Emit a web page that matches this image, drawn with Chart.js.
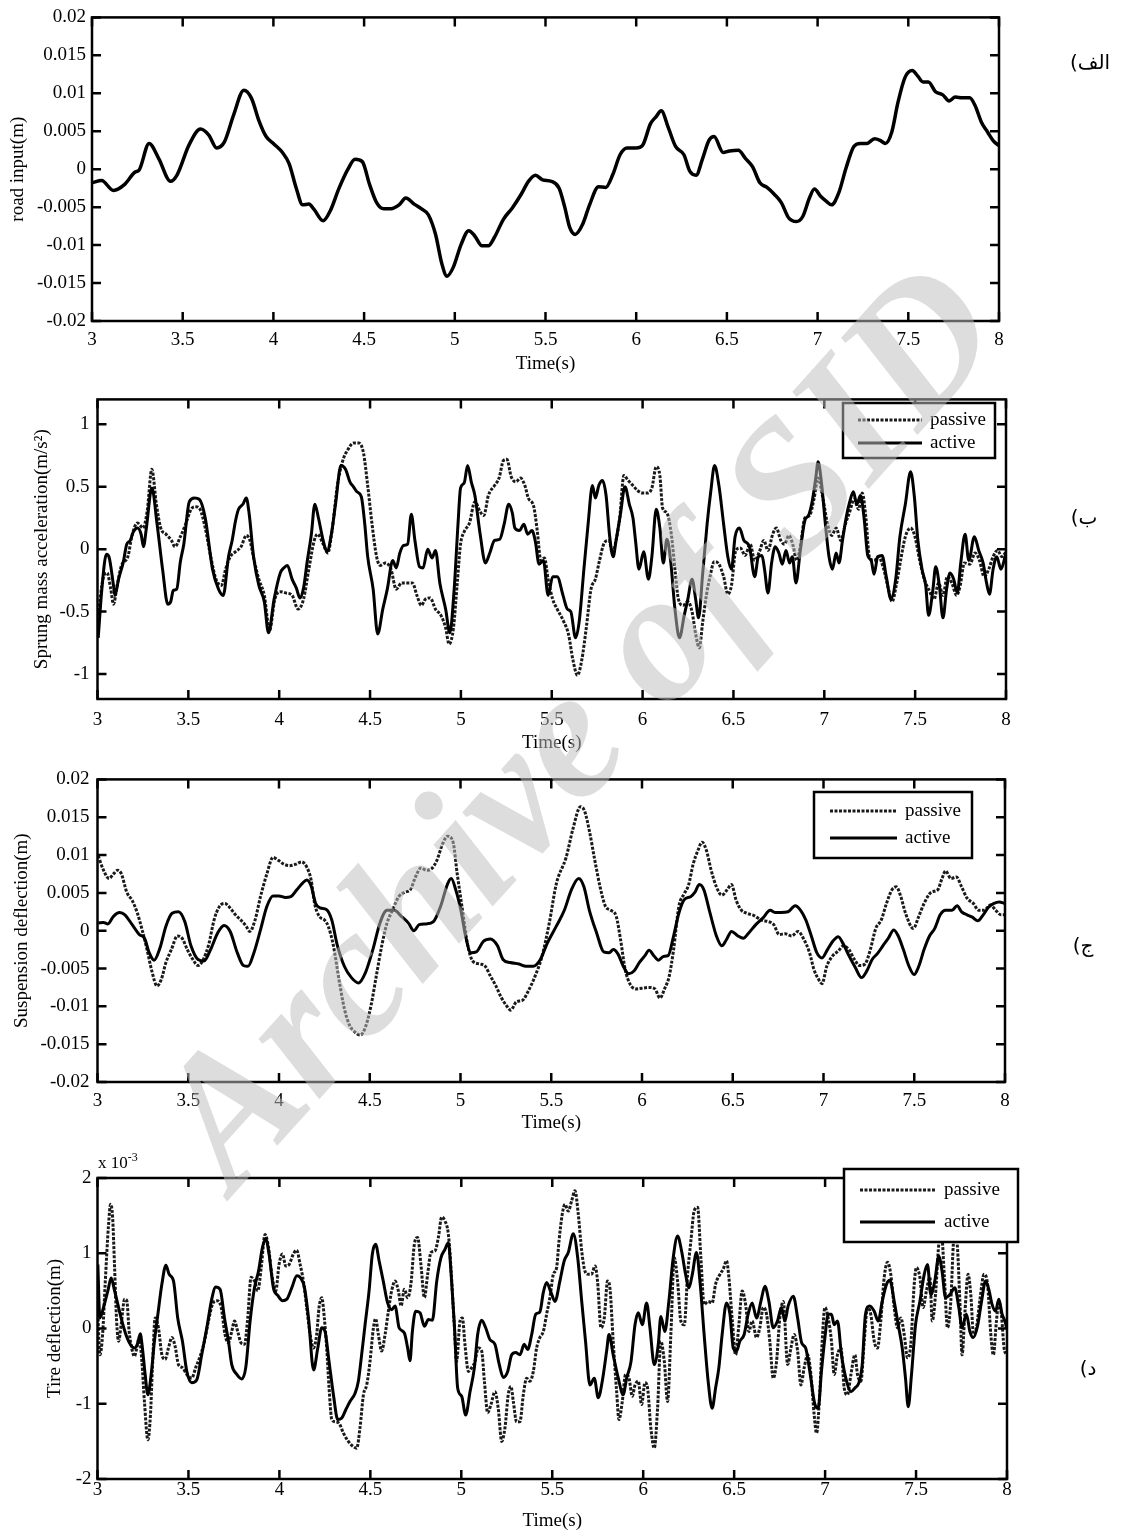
<!DOCTYPE html>
<html>
<head>
<meta charset="utf-8">
<title>Suspension response</title>
<script src="https://cdn.jsdelivr.net/npm/chart.js@4.4.1/dist/chart.umd.min.js"></script>
<style>
  body { margin: 0; background: #fff; width: 1122px; height: 1532px; position: relative; overflow: hidden; }
  canvas { position: absolute; left: 0; }
  .tag { position: absolute; font: 20px 'DejaVu Sans', sans-serif; color: #000; white-space: nowrap; transform: translate(-50%, -50%); }
  #scale4 { position: absolute; left: 98px; top: 1150px; font: 17px 'Liberation Serif', serif; }
  #scale4 sup { font-size: 12px; }
  #stamp {
    position: absolute; left: 574px; top: 722px; white-space: nowrap; pointer-events: none;
    transform: translate(-50%, -50%) rotate(-48deg);
    font: italic bold 186px 'Liberation Serif', serif; color: rgba(190, 190, 190, 0.52);
  }
</style>
</head>
<body>
<canvas id="road" width="1122" height="380" style="top:0px"></canvas>
<canvas id="accel" width="1122" height="380" style="top:380px"></canvas>
<canvas id="susp" width="1122" height="380" style="top:760px"></canvas>
<canvas id="tire" width="1122" height="392" style="top:1140px"></canvas>

<div class="tag" dir="rtl" style="left:1090px; top:62px">الف)</div>
<div class="tag" dir="rtl" style="left:1084px; top:517px">ب)</div>
<div class="tag" dir="rtl" style="left:1083px; top:945px">ج)</div>
<div class="tag" dir="rtl" style="left:1088px; top:1368px">د)</div>
<div id="scale4">x 10<sup>-3</sup></div>
<div id="stamp">Archive of SID</div>

<script>
// --- AXES ---
const timeTicks = [3, 3.5, 4, 4.5, 5, 5.5, 6, 6.5, 7, 7.5, 8];
const metreTicks = [-0.02, -0.015, -0.01, -0.005, 0, 0.005, 0.01, 0.015, 0.02];
const accelTicks = [-1, -0.5, 0, 0.5, 1];
const tireTicks = [-2, -1, 0, 1, 2];

// --- ROAD INPUT (m) ---
const roadTime = [3.000,3.053,3.118,3.180,3.236,3.260,3.315,3.368,3.433,3.470,3.535,3.598,3.644,3.687,3.730,3.780,3.837,3.880,3.920,3.960,
  4.004,4.050,4.087,4.126,4.161,4.195,4.224,4.274,4.313,4.362,4.411,4.450,4.490,4.530,4.569,4.608,4.648,4.693,4.730,4.776,4.815,4.854,4.894,4.929,4.957,4.992,
  5.035,5.077,5.110,5.150,5.185,5.218,5.268,5.317,5.366,5.406,5.445,5.484,5.533,5.575,5.605,5.634,5.664,5.704,5.743,5.792,5.832,5.871,5.911,5.950,
  6.000,6.034,6.079,6.109,6.138,6.178,6.217,6.263,6.296,6.330,6.366,6.401,6.429,6.480,6.514,6.563,6.603,6.642,6.682,6.721,6.761,6.800,6.840,6.883,6.919,6.955,6.982,
  7.018,7.047,7.077,7.117,7.156,7.200,7.235,7.271,7.314,7.344,7.374,7.409,7.443,7.482,7.522,7.551,7.581,7.611,7.650,7.690,7.725,7.759,7.798,7.838,7.868,7.903,7.937,7.970,8.000];
const roadInput = [-0.0018,-0.0015,-0.0028,-0.0020,-0.0004,-0.0001,0.0034,0.0014,-0.0016,-0.0007,0.0032,0.0053,0.0045,0.0028,0.0036,0.0071,0.0104,0.0093,0.0064,0.0043,
  0.0033,0.0022,0.0007,-0.0025,-0.0047,-0.0046,-0.0053,-0.0068,-0.0055,-0.0025,0.0000,0.0013,0.0010,-0.0020,-0.0044,-0.0052,-0.0052,-0.0047,-0.0038,-0.0046,-0.0052,-0.0060,-0.0086,-0.0125,-0.0141,-0.0129,
  -0.0099,-0.0081,-0.0088,-0.0101,-0.0101,-0.0090,-0.0066,-0.0051,-0.0033,-0.0016,-0.0008,-0.0014,-0.0016,-0.0025,-0.0049,-0.0077,-0.0086,-0.0073,-0.0047,-0.0023,-0.0024,-0.0007,0.0019,0.0028,
  0.0028,0.0031,0.0060,0.0069,0.0077,0.0054,0.0030,0.0019,-0.0003,-0.0008,0.0014,0.0038,0.0043,0.0022,0.0024,0.0025,0.0014,0.0003,-0.0018,-0.0024,-0.0033,-0.0044,-0.0064,-0.0069,-0.0062,-0.0038,-0.0026,
  -0.0036,-0.0042,-0.0047,-0.0031,0.0001,0.0030,0.0034,0.0034,0.0040,0.0038,0.0034,0.0049,0.0088,0.0121,0.0130,0.0123,0.0115,0.0115,0.0102,0.0098,0.0090,0.0095,0.0094,0.0094,0.0084,0.0062,0.0049,0.0037,0.0031];

// --- SPRUNG MASS ACCELERATION (m/s^2) ---
const accPassiveTime = [3.004,3.033,3.053,3.073,3.088,3.108,3.132,3.167,3.190,3.220,3.250,3.273,3.299,3.324,3.348,3.377,3.407,3.426,3.456,3.485,3.515,3.540,3.564,3.593,3.623,3.652,3.682,3.705,3.731,3.760,3.790,3.819,3.839,3.862,3.888,3.918,3.947,3.976,
  4.006,4.035,4.071,4.104,4.134,4.163,4.193,4.212,4.242,4.267,4.291,4.320,4.350,4.379,4.409,4.438,4.464,4.487,4.511,4.536,4.556,4.585,4.615,4.644,4.674,4.703,4.733,4.758,4.782,4.805,4.831,4.860,4.890,4.916,4.935,4.959,4.980,4.998,
  5.018,5.047,5.077,5.106,5.126,5.151,5.185,5.210,5.234,5.253,5.277,5.303,5.328,5.352,5.371,5.401,5.420,5.440,5.460,5.480,5.505,5.530,5.566,5.592,5.617,5.641,5.665,5.690,5.716,5.740,5.763,5.789,5.815,5.834,5.854,5.874,5.897,5.921,5.947,5.972,
  6.000,6.026,6.051,6.075,6.095,6.110,6.134,6.158,6.178,6.197,6.223,6.249,6.272,6.292,6.312,6.331,6.351,6.371,6.394,6.420,6.446,6.469,6.489,6.513,6.538,6.564,6.592,6.617,6.643,6.667,6.690,6.716,6.736,6.761,6.781,6.805,6.828,6.848,6.868,6.893,6.919,6.943,6.966,6.992,
  7.018,7.041,7.065,7.091,7.116,7.140,7.164,7.189,7.209,7.229,7.248,7.274,7.298,7.327,7.353,7.373,7.396,7.420,7.446,7.475,7.499,7.525,7.550,7.574,7.604,7.629,7.653,7.677,7.702,7.728,7.748,7.771,7.801,7.830,7.854,7.880,7.905,7.929,7.953,7.978,8.000];
const accPassive = [-0.53,-0.22,-0.19,-0.32,-0.44,-0.29,-0.13,-0.06,0.11,0.21,0.17,0.30,0.64,0.36,0.17,0.12,0.07,0.02,0.10,0.20,0.32,0.34,0.32,0.17,-0.06,-0.24,-0.29,-0.16,-0.06,-0.02,0.02,0.11,0.07,-0.09,-0.24,-0.37,-0.65,-0.40,
  -0.34,-0.35,-0.37,-0.48,-0.40,-0.16,0.07,0.12,0.04,-0.03,0.15,0.51,0.71,0.80,0.85,0.85,0.77,0.51,0.20,-0.06,-0.13,-0.11,-0.16,-0.32,-0.27,-0.27,-0.27,-0.37,-0.45,-0.40,-0.39,-0.48,-0.53,-0.63,-0.76,-0.63,-0.27,0.04,
  0.14,0.21,0.38,0.30,0.27,0.43,0.51,0.57,0.71,0.72,0.58,0.54,0.57,0.51,0.41,0.34,0.15,-0.09,-0.07,-0.24,-0.40,-0.48,-0.58,-0.68,-0.89,-1.01,-0.89,-0.63,-0.32,-0.24,-0.09,0.05,0.07,-0.03,0.07,0.25,0.59,0.55,0.51,0.47,
  0.45,0.45,0.49,0.66,0.59,0.33,0.29,0.12,-0.16,-0.40,-0.45,-0.42,-0.50,-0.68,-0.79,-0.58,-0.37,-0.22,-0.10,-0.12,-0.22,-0.36,-0.29,-0.01,0.01,-0.05,0.04,-0.09,-0.02,0.07,-0.01,0.12,0.17,0.07,0.04,0.11,0.03,-0.09,0.02,0.25,0.27,0.40,0.57,0.41,
  0.20,0.11,0.17,0.07,0.20,0.30,0.40,0.32,0.45,0.25,-0.06,-0.09,-0.06,-0.16,-0.32,-0.42,-0.29,-0.09,0.10,0.17,0.10,-0.09,-0.24,-0.32,-0.40,-0.27,-0.37,-0.22,-0.27,-0.37,-0.29,-0.11,-0.12,-0.03,-0.09,-0.22,-0.16,-0.06,-0.01,-0.06,-0.02];

const accActiveTime = [3.004,3.024,3.049,3.063,3.088,3.096,3.116,3.141,3.161,3.180,3.196,3.220,3.240,3.253,3.269,3.299,3.328,3.358,3.387,3.403,3.417,3.436,3.456,3.475,3.505,3.534,3.560,3.593,3.633,3.666,3.692,3.721,3.741,3.760,3.776,3.800,3.819,3.835,3.859,3.888,3.918,3.941,3.972,
  4.006,4.025,4.045,4.071,4.094,4.114,4.134,4.153,4.177,4.196,4.216,4.242,4.263,4.287,4.310,4.340,4.365,4.389,4.409,4.428,4.452,4.471,4.487,4.517,4.542,4.570,4.595,4.625,4.644,4.664,4.684,4.707,4.727,4.747,4.772,4.792,4.817,4.841,4.860,4.884,4.916,4.939,4.963,4.984,4.998,
  5.018,5.037,5.057,5.077,5.106,5.135,5.159,5.185,5.214,5.238,5.263,5.283,5.297,5.322,5.347,5.367,5.391,5.410,5.430,5.454,5.480,5.505,5.530,5.562,5.586,5.605,5.631,5.651,5.677,5.700,5.724,5.740,5.759,5.779,5.799,5.819,5.838,5.854,5.878,5.903,5.927,5.947,5.961,5.980,
  6.006,6.032,6.051,6.075,6.095,6.114,6.134,6.154,6.178,6.203,6.229,6.249,6.272,6.292,6.308,6.331,6.355,6.375,6.396,6.420,6.446,6.469,6.489,6.509,6.533,6.558,6.588,6.617,6.637,6.657,6.671,6.690,6.710,6.730,6.750,6.769,6.789,6.809,6.824,6.844,6.868,6.893,6.913,6.933,6.953,6.966,6.986,
  7.006,7.026,7.045,7.065,7.081,7.100,7.120,7.140,7.160,7.179,7.199,7.219,7.239,7.258,7.274,7.294,7.318,7.341,7.367,7.393,7.416,7.446,7.475,7.495,7.515,7.538,7.558,7.574,7.598,7.613,7.633,7.653,7.673,7.692,7.712,7.732,7.751,7.775,7.795,7.826,7.850,7.874,7.893,7.909,7.929,7.949,7.972,8.000];
const accActive = [-0.71,-0.32,-0.04,-0.06,-0.29,-0.37,-0.24,-0.11,0.04,0.07,0.135,0.17,0.12,0.02,0.17,0.49,0.20,-0.16,-0.44,-0.42,-0.33,-0.32,-0.10,0.04,0.38,0.41,0.40,0.25,-0.16,-0.32,-0.37,-0.06,0.07,0.23,0.32,0.36,0.41,0.28,-0.06,-0.29,-0.42,-0.67,-0.40,
  -0.19,-0.15,-0.13,-0.24,-0.31,-0.39,-0.31,-0.11,0.12,0.36,0.25,0.07,-0.02,0.12,0.36,0.67,0.64,0.54,0.50,0.46,0.42,0.20,-0.06,-0.32,-0.68,-0.48,-0.32,-0.09,-0.15,-0.03,0.03,0.04,0.28,0.07,-0.14,-0.15,0.00,-0.07,-0.01,-0.27,-0.48,-0.67,-0.32,0.20,0.49,
  0.53,0.67,0.54,0.43,0.12,-0.11,-0.03,0.07,0.08,0.20,0.36,0.29,0.17,0.15,0.20,0.12,0.15,0.06,-0.12,-0.09,-0.37,-0.22,-0.22,-0.37,-0.48,-0.50,-0.71,-0.58,-0.16,0.20,0.51,0.41,0.51,0.55,0.43,0.10,-0.06,0.07,0.28,0.50,0.36,0.25,0.07,-0.16,
  -0.02,-0.24,-0.06,0.32,0.17,-0.11,0.08,-0.09,-0.48,-0.71,-0.53,-0.40,-0.24,-0.40,-0.55,-0.19,0.20,0.46,0.67,0.51,0.20,-0.06,-0.16,0.10,0.17,0.07,0.02,-0.22,-0.06,-0.05,-0.16,-0.35,-0.11,0.02,-0.03,-0.12,-0.01,-0.11,-0.06,-0.27,-0.01,0.23,0.27,0.38,0.57,0.70,0.51,
  0.20,-0.06,-0.16,-0.03,-0.11,0.07,0.25,0.38,0.46,0.36,0.43,0.25,-0.05,-0.09,-0.20,-0.06,-0.05,-0.22,-0.40,-0.24,0.10,0.36,0.62,0.43,0.07,-0.16,-0.29,-0.53,-0.32,-0.14,-0.29,-0.55,-0.32,-0.19,-0.24,-0.35,-0.11,0.12,-0.09,0.10,-0.01,-0.11,-0.27,-0.36,-0.16,-0.06,-0.16,-0.03];

// --- SUSPENSION DEFLECTION (m) ---
const suspPassiveTime = [3.004,3.033,3.063,3.088,3.112,3.132,3.161,3.191,3.220,3.246,3.273,3.299,3.328,3.352,3.377,3.407,3.440,3.466,3.495,3.525,3.554,3.583,3.613,3.642,3.672,3.701,3.731,3.760,3.790,3.819,3.839,3.868,3.898,3.933,3.967,3.996,
  4.026,4.059,4.094,4.124,4.153,4.177,4.196,4.222,4.251,4.271,4.300,4.330,4.360,4.389,4.419,4.448,4.477,4.507,4.536,4.566,4.595,4.625,4.660,4.694,4.723,4.752,4.782,4.811,4.841,4.870,4.900,4.929,4.959,4.982,
  5.008,5.037,5.067,5.106,5.136,5.165,5.195,5.224,5.253,5.277,5.308,5.342,5.371,5.411,5.450,5.489,5.528,5.582,5.621,5.661,5.684,5.710,5.740,5.769,5.799,5.828,5.858,5.882,5.907,5.933,5.966,
  6.000,6.036,6.071,6.099,6.124,6.150,6.174,6.203,6.233,6.256,6.282,6.308,6.331,6.355,6.381,6.410,6.440,6.469,6.493,6.519,6.548,6.578,6.617,6.657,6.696,6.726,6.755,6.789,6.824,6.860,6.893,6.923,6.947,6.972,6.992,
  7.018,7.051,7.081,7.110,7.140,7.170,7.199,7.229,7.258,7.288,7.318,7.347,7.377,7.401,7.426,7.452,7.495,7.525,7.554,7.594,7.629,7.653,7.673,7.702,7.732,7.761,7.791,7.826,7.854,7.886,7.919,7.949,7.978,8.000];
const suspPassive = [0.0099,0.0080,0.0069,0.0075,0.0080,0.0075,0.0051,0.0040,0.0023,0.0001,-0.0025,-0.0053,-0.0073,-0.0064,-0.0042,-0.0025,-0.0007,-0.0010,-0.0025,-0.0038,-0.0046,-0.0038,-0.0018,0.0014,0.0032,0.0036,0.0030,0.0021,0.0014,0.0006,-0.0001,0.0014,0.0045,0.0075,0.0097,0.0093,
  0.0088,0.0086,0.0088,0.0091,0.0084,0.0067,0.0036,0.0019,0.0014,0.0006,-0.0020,-0.0064,-0.0103,-0.0125,-0.0134,-0.0138,-0.0127,-0.0099,-0.0060,-0.0020,0.0010,0.0027,0.0045,0.0051,0.0054,0.0071,0.0083,0.0080,0.0082,0.0093,0.0114,0.0125,0.0117,0.0075,
  0.0032,-0.0016,-0.0040,-0.0044,-0.0047,-0.0060,-0.0073,-0.0088,-0.0099,-0.0105,-0.0094,-0.0092,-0.0081,-0.0060,-0.0033,0.0010,0.0062,0.0097,0.0136,0.0164,0.0158,0.0132,0.0093,0.0058,0.0032,0.0027,0.0019,-0.0012,-0.0051,-0.0070,-0.0077,
  -0.0076,-0.0075,-0.0077,-0.0089,-0.0077,-0.0060,-0.0025,0.0032,0.0049,0.0060,0.0088,0.0106,0.0117,0.0106,0.0080,0.0058,0.0047,0.0054,0.0061,0.0040,0.0027,0.0023,0.0020,0.0014,0.0012,0.0008,-0.0005,-0.0004,-0.0007,-0.0001,-0.0012,-0.0029,-0.0051,-0.0064,-0.0070,
  -0.0047,-0.0033,-0.0027,-0.0020,-0.0025,-0.0038,-0.0046,-0.0044,-0.0025,0.0003,0.0014,0.0036,0.0054,0.0058,0.0045,0.0023,0.0003,0.0019,0.0036,0.0051,0.0054,0.0069,0.0079,0.0069,0.0071,0.0058,0.0043,0.0036,0.0027,0.0027,0.0034,0.0027,0.0021,0.0021];

const suspActiveTime = [3.004,3.033,3.057,3.088,3.122,3.151,3.191,3.230,3.259,3.285,3.312,3.344,3.377,3.411,3.446,3.481,3.515,3.554,3.587,3.623,3.662,3.697,3.731,3.770,3.804,3.829,3.862,3.898,3.933,3.967,
  4.000,4.035,4.065,4.098,4.130,4.153,4.177,4.202,4.228,4.261,4.291,4.320,4.360,4.399,4.438,4.477,4.517,4.556,4.595,4.635,4.674,4.713,4.743,4.772,4.811,4.851,4.890,4.929,4.949,4.974,
  5.002,5.028,5.057,5.087,5.126,5.165,5.204,5.234,5.273,5.322,5.361,5.400,5.440,5.479,5.528,5.572,5.611,5.651,5.680,5.710,5.750,5.789,5.819,5.842,5.868,5.897,5.927,5.957,5.986,
  6.016,6.039,6.065,6.091,6.118,6.144,6.174,6.203,6.233,6.268,6.292,6.316,6.341,6.371,6.410,6.440,6.465,6.493,6.529,6.558,6.588,6.627,6.667,6.706,6.736,6.765,6.805,6.844,6.874,6.903,6.933,6.963,6.992,
  7.022,7.051,7.081,7.110,7.140,7.176,7.209,7.239,7.268,7.298,7.327,7.357,7.387,7.412,7.440,7.471,7.499,7.525,7.554,7.584,7.613,7.643,7.673,7.708,7.736,7.761,7.791,7.820,7.850,7.880,7.909,7.939,7.968,8.000];
const suspActive = [0.0010,0.0011,0.0009,0.0019,0.0024,0.0021,0.0008,-0.0005,-0.0010,-0.0029,-0.0039,-0.0023,0.0006,0.0023,0.0025,0.0012,-0.0020,-0.0038,-0.0040,-0.0025,-0.0003,0.0007,-0.0001,-0.0029,-0.0046,-0.0047,-0.0029,0.0001,0.0032,0.0046,
  0.0046,0.0044,0.0045,0.0054,0.0063,0.0067,0.0059,0.0036,0.0030,0.0028,0.0014,-0.0018,-0.0047,-0.0062,-0.0069,-0.0055,-0.0025,0.0010,0.0027,0.0027,0.0019,0.0010,0.0000,0.0008,0.0009,0.0012,0.0032,0.0062,0.0069,0.0054,
  0.0027,-0.0007,-0.0029,-0.0028,-0.0014,-0.0011,-0.0020,-0.0038,-0.0042,-0.0044,-0.0047,-0.0047,-0.0038,-0.0016,0.0006,0.0027,0.0054,0.0069,0.0058,0.0027,-0.0003,-0.0028,-0.0029,-0.0025,-0.0031,-0.0047,-0.0057,-0.0053,-0.0042,
  -0.0033,-0.0026,-0.0033,-0.0039,-0.0034,-0.0033,-0.0007,0.0023,0.0041,0.0045,0.0051,0.0061,0.0054,0.0027,-0.0007,-0.0020,-0.0012,-0.0001,-0.0007,-0.0010,-0.0003,0.0008,0.0017,0.0027,0.0024,0.0024,0.0025,0.0033,0.0027,0.0014,-0.0007,-0.0029,-0.0036,
  -0.0025,-0.0014,-0.0008,-0.0018,-0.0033,-0.0049,-0.0062,-0.0053,-0.0038,-0.0030,-0.0020,-0.0010,0.0001,-0.0007,-0.0025,-0.0047,-0.0058,-0.0047,-0.0025,-0.0007,0.0003,0.0021,0.0027,0.0027,0.0033,0.0025,0.0021,0.0018,0.0013,0.0021,0.0031,0.0036,0.0038,0.0036];

// --- TIRE DEFLECTION (x 10^-3 m) ---
const tirePassiveTime = [3.002,3.013,3.028,3.042,3.061,3.072,3.083,3.094,3.105,3.116,3.130,3.149,3.161,3.174,3.188,3.203,3.216,3.229,3.244,3.258,3.277,3.291,3.302,3.317,3.335,3.354,3.372,3.390,3.409,3.427,3.445,3.467,3.491,3.518,3.540,3.564,3.588,3.610,3.632,3.656,3.680,3.701,3.720,3.738,3.753,3.771,3.789,3.808,3.826,3.844,3.863,3.881,3.900,3.921,3.940,3.958,3.980,3.998,
  4.017,4.035,4.053,4.077,4.095,4.114,4.132,4.150,4.169,4.187,4.205,4.218,4.233,4.247,4.260,4.273,4.288,4.306,4.328,4.352,4.379,4.407,4.425,4.443,4.462,4.480,4.498,4.517,4.529,4.544,4.562,4.581,4.599,4.617,4.636,4.654,4.669,4.687,4.705,4.723,4.742,4.760,4.778,4.797,4.815,4.833,4.855,4.874,4.892,4.910,4.929,4.943,4.962,4.974,4.993,
  5.006,5.020,5.039,5.057,5.075,5.093,5.112,5.127,5.145,5.163,5.185,5.203,5.222,5.240,5.258,5.273,5.286,5.304,5.322,5.341,5.359,5.377,5.396,5.414,5.432,5.451,5.469,5.487,5.506,5.524,5.537,5.555,5.570,5.588,5.607,5.625,5.643,5.662,5.680,5.698,5.716,5.735,5.749,5.768,5.786,5.804,5.817,5.835,5.854,5.867,5.885,5.903,5.922,5.940,5.955,5.973,5.991,
  6.010,6.024,6.042,6.061,6.079,6.097,6.116,6.134,6.152,6.171,6.189,6.207,6.226,6.244,6.262,6.280,6.299,6.317,6.335,6.357,6.379,6.398,6.422,6.440,6.458,6.471,6.490,6.508,6.526,6.544,6.563,6.581,6.599,6.623,6.641,6.660,6.678,6.696,6.715,6.733,6.751,6.770,6.794,6.812,6.830,6.849,6.867,6.885,6.904,6.922,6.940,6.953,6.971,6.984,
  6.999,7.017,7.035,7.050,7.068,7.087,7.105,7.123,7.142,7.164,7.178,7.197,7.215,7.233,7.251,7.270,7.288,7.306,7.325,7.343,7.361,7.380,7.398,7.416,7.435,7.453,7.471,7.490,7.502,7.521,7.539,7.557,7.576,7.589,7.607,7.625,7.640,7.655,7.673,7.691,7.709,7.724,7.741,7.753,7.768,7.786,7.801,7.816,7.832,7.850,7.874,7.893,7.911,7.925,7.942,7.955,7.969,7.984,7.997];
const tirePassive = [0.19,-0.35,-0.08,0.59,1.39,1.65,1.48,0.81,0.10,-0.17,0.05,0.39,0.37,-0.04,-0.26,-0.37,-0.26,-0.12,-0.44,-0.97,-1.48,-1.15,-0.52,0.14,0.01,-0.35,-0.41,-0.26,-0.12,-0.24,-0.48,-0.52,-0.61,-0.66,-0.52,-0.37,-0.17,0.10,0.32,0.37,0.28,-0.08,-0.19,-0.04,0.10,-0.04,-0.19,-0.21,0.14,0.68,0.63,0.50,0.81,1.25,1.08,0.72,0.50,0.85,
  0.99,0.83,0.85,0.99,1.04,0.85,0.63,0.28,-0.08,-0.26,-0.08,0.28,0.41,0.14,-0.26,-0.79,-1.21,-1.24,-1.26,-1.39,-1.50,-1.57,-1.59,-1.32,-0.88,-0.75,-0.44,0.01,0.13,-0.08,-0.30,-0.08,0.23,0.50,0.63,0.50,0.30,0.52,0.41,0.59,1.12,1.21,0.85,0.41,0.72,1.01,1.03,1.21,1.48,1.43,1.25,0.81,0.01,-0.44,0.10,
  0.14,-0.21,-0.57,-0.52,-0.44,-0.26,-0.30,-0.70,-1.12,-1.01,-0.84,-1.06,-1.50,-1.32,-0.88,-0.77,-0.97,-1.24,-1.24,-0.88,-0.66,-0.70,-0.57,-0.26,-0.12,-0.04,0.19,0.41,0.72,0.81,1.16,1.52,1.65,1.56,1.70,1.83,1.52,1.03,0.76,0.72,0.72,0.83,0.63,0.01,0.14,0.63,0.54,-0.17,-0.84,-1.21,-0.97,-0.61,-0.66,-0.90,-0.75,-0.70,-1.01,
  -0.72,-0.79,-1.32,-1.59,-1.06,-0.17,-0.44,-0.97,-0.08,0.94,0.63,0.10,0.05,0.72,1.16,1.56,1.61,0.94,0.32,0.36,0.34,0.59,0.72,0.79,0.90,0.68,0.10,-0.35,0.05,0.50,0.32,-0.04,0.10,-0.12,0.01,0.28,0.19,-0.17,-0.66,-0.44,0.14,0.36,-0.48,-0.26,-0.08,-0.30,-0.75,-0.52,-0.35,-0.61,-1.15,-1.39,-0.84,-0.17,
  0.28,0.14,-0.17,-0.61,-0.35,-0.26,-0.79,-0.88,-0.61,-0.35,-0.61,-0.70,-0.17,0.28,0.19,-0.17,-0.26,0.10,0.68,0.88,0.72,0.28,0.01,0.14,-0.08,-0.39,-0.21,0.59,0.81,0.68,0.28,0.50,0.68,0.10,0.45,1.12,1.25,0.72,0.01,0.36,1.21,1.16,0.36,-0.35,0.19,0.72,0.45,-0.08,0.01,0.36,0.72,0.59,-0.08,-0.35,0.10,0.36,0.19,-0.26,-0.35];

const tireActiveTime = [3.002,3.013,3.033,3.057,3.075,3.094,3.112,3.134,3.156,3.180,3.204,3.222,3.235,3.247,3.262,3.277,3.295,3.313,3.332,3.354,3.376,3.394,3.418,3.441,3.467,3.491,3.518,3.546,3.573,3.601,3.628,3.650,3.674,3.698,3.720,3.738,3.766,3.793,3.815,3.839,3.863,3.885,3.907,3.925,3.943,3.967,3.991,
  4.017,4.041,4.068,4.096,4.114,4.138,4.160,4.188,4.211,4.233,4.251,4.273,4.297,4.321,4.343,4.365,4.388,4.416,4.434,4.452,4.471,4.493,4.511,4.529,4.548,4.571,4.595,4.617,4.636,4.658,4.687,4.705,4.718,4.731,4.749,4.773,4.797,4.819,4.841,4.865,4.888,4.910,4.929,4.943,4.962,4.980,
  5.002,5.024,5.048,5.072,5.090,5.112,5.134,5.158,5.185,5.207,5.231,5.255,5.277,5.299,5.322,5.346,5.365,5.387,5.409,5.432,5.451,5.469,5.493,5.515,5.542,5.566,5.588,5.616,5.640,5.662,5.683,5.707,5.731,5.753,5.775,5.799,5.812,5.835,5.863,5.890,5.909,5.933,5.955,5.973,5.995,
  6.019,6.037,6.061,6.083,6.097,6.119,6.141,6.165,6.189,6.211,6.233,6.251,6.270,6.293,6.312,6.335,6.357,6.379,6.398,6.416,6.434,6.458,6.477,6.495,6.513,6.531,6.555,6.577,6.599,6.623,6.647,6.669,6.691,6.715,6.738,6.760,6.779,6.797,6.825,6.849,6.871,6.893,6.916,6.944,6.962,6.980,
  6.999,7.017,7.035,7.050,7.068,7.090,7.118,7.142,7.164,7.186,7.204,7.222,7.246,7.270,7.292,7.314,7.338,7.356,7.380,7.402,7.424,7.442,7.457,7.475,7.497,7.521,7.545,7.563,7.581,7.603,7.625,7.643,7.662,7.686,7.713,7.735,7.753,7.777,7.796,7.814,7.838,7.860,7.882,7.900,7.918,7.937,7.955,7.973,7.991,7.997];
const tireActive = [0.85,0.14,0.28,0.50,0.67,0.50,0.32,0.10,-0.08,-0.21,-0.26,-0.19,-0.07,-0.26,-0.61,-0.88,-0.61,-0.17,0.19,0.59,0.84,0.72,0.63,0.14,-0.17,-0.57,-0.72,-0.68,-0.35,0.01,0.39,0.55,0.52,0.14,-0.17,-0.48,-0.61,-0.67,-0.52,0.10,0.54,0.76,1.08,1.19,0.99,0.54,0.44,
  0.37,0.39,0.54,0.70,0.68,0.54,0.14,-0.55,-0.26,0.01,-0.04,-0.44,-0.88,-1.21,-1.19,-1.08,-0.97,-0.86,-0.70,-0.35,0.05,0.50,0.99,1.12,0.90,0.63,0.34,0.25,0.30,0.01,-0.06,-0.26,-0.43,-0.04,0.23,0.21,0.03,0.12,0.11,0.63,0.94,1.05,1.14,0.76,0.05,-0.79,
  -0.90,-1.15,-0.84,-0.52,-0.08,0.11,0.01,-0.15,-0.21,-0.46,-0.65,-0.57,-0.35,-0.32,-0.35,-0.21,-0.28,-0.08,0.19,0.22,0.48,0.61,0.48,0.36,0.63,0.90,1.01,1.26,0.94,0.36,-0.17,-0.75,-0.66,-0.92,-0.70,-0.30,-0.08,-0.35,-0.66,-0.88,-0.66,-0.44,0.05,0.21,0.05,
  0.34,0.01,-0.48,-0.21,0.16,-0.04,0.36,0.94,1.23,1.03,0.72,0.54,0.72,1.01,0.63,-0.08,-0.70,-1.06,-0.79,-0.52,-0.08,0.34,0.19,-0.26,-0.30,-0.17,-0.08,0.19,0.34,0.14,0.36,0.56,0.36,0.01,0.10,0.28,0.10,0.30,0.43,0.14,-0.19,-0.26,-0.57,-1.01,-1.06,-0.57,
  -0.12,0.19,0.19,0.05,0.10,-0.35,-0.70,-0.84,-0.79,-0.72,-0.48,0.19,0.30,0.23,0.10,0.36,0.59,0.64,0.36,0.05,-0.26,-0.66,-1.04,-0.61,0.05,0.36,0.72,0.85,0.45,0.63,0.96,0.76,0.41,0.45,0.54,0.28,0.01,0.19,-0.04,-0.12,0.03,0.36,0.63,0.52,0.32,0.23,0.39,0.19,0.08,0.01];

// --- LAYOUT (page pixels) ---
const FONT = "'Liberation Serif', 'Times New Roman', serif";
Chart.defaults.font.family = FONT;
Chart.defaults.font.size = 19;
Chart.defaults.color = '#000';

const fmt = v => String(Number(v.toFixed(4)));
const pairs = (t, v) => t.map((x, i) => ({ x: x, y: v[i] }));

// frame + inward ticks on all four sides
const frame = {
  id: 'frame',
  afterDatasetsDraw(chart) {
    const { ctx, chartArea: a, scales: { x, y } } = chart;
    const len = 9;
    ctx.save();
    ctx.strokeStyle = '#000';
    ctx.lineWidth = 2.5;
    ctx.beginPath();
    x.ticks.forEach(t => {
      const px = x.getPixelForValue(t.value);
      ctx.moveTo(px, a.bottom); ctx.lineTo(px, a.bottom - len);
      ctx.moveTo(px, a.top); ctx.lineTo(px, a.top + len);
    });
    y.ticks.forEach(t => {
      const py = y.getPixelForValue(t.value);
      ctx.moveTo(a.left, py); ctx.lineTo(a.left + len, py);
      ctx.moveTo(a.right, py); ctx.lineTo(a.right - len, py);
    });
    ctx.stroke();
    ctx.strokeRect(a.left, a.top, a.right - a.left, a.bottom - a.top);
    ctx.restore();
  }
};

// boxed legend in the top right corner
const boxLegend = {
  id: 'boxLegend',
  afterDraw(chart, args, o) {
    const { ctx } = chart;
    const dy = o.offset;
    const [x0, y0, x1, y1] = o.box;
    ctx.save();
    ctx.fillStyle = '#fff';
    ctx.fillRect(x0, y0 - dy, x1 - x0, y1 - y0);
    ctx.strokeStyle = '#000';
    ctx.lineWidth = 2.5;
    ctx.strokeRect(x0, y0 - dy, x1 - x0, y1 - y0);
    chart.data.datasets.forEach((ds, i) => {
      const yy = o.rows[i] - dy;
      ctx.setLineDash(ds.borderDash || []);
      ctx.lineWidth = ds.borderWidth;
      ctx.strokeStyle = ds.borderColor;
      ctx.beginPath();
      ctx.moveTo(o.line[0], yy);
      ctx.lineTo(o.line[1], yy);
      ctx.stroke();
      ctx.setLineDash([]);
      ctx.fillStyle = '#000';
      ctx.font = '19px ' + FONT;
      ctx.textBaseline = 'middle';
      ctx.fillText(ds.label, o.textX, yy);
    });
    ctx.restore();
  }
};

function passive(t, v) {
  return { label: 'passive', t: t, v: v, color: '#1a1a1a', width: 3, dash: [3, 1.5], order: 1 };
}
function active(t, v) {
  return { label: 'active', t: t, v: v, color: '#000', width: 3, dash: [], order: 0 };
}

function drawPanel(id, g, yRange, yTicks, yTitle, series, legend) {
  const top = g.canvasTop;
  return new Chart(document.getElementById(id), {
    type: 'line',
    data: {
      datasets: series.map(s => ({
        label: s.label,
        data: pairs(s.t, s.v),
        borderColor: s.color,
        borderWidth: s.width,
        borderDash: s.dash,
        pointRadius: 0,
        cubicInterpolationMode: 'monotone',
        fill: false,
        order: s.order
      }))
    },
    options: {
      responsive: false,
      animation: false,
      devicePixelRatio: 1,
      events: [],
      layout: { padding: { left: 0, top: g.top - top, right: 1122 - g.right, bottom: 0 } },
      plugins: {
        legend: { display: false },
        tooltip: { enabled: false },
        boxLegend: legend ? Object.assign({ offset: top }, legend) : false
      },
      scales: {
        x: {
          type: 'linear', min: 3, max: 8,
          afterBuildTicks: s => { s.ticks = timeTicks.map(v => ({ value: v })); },
          afterFit: s => { s.height = g.canvasH - (g.bottom - top); },
          grid: { display: false, drawTicks: false }, border: { display: false },
          ticks: { padding: g.xPad, autoSkip: false, maxRotation: 0, callback: v => fmt(v) },
          title: { display: true, text: 'Time(s)', padding: { top: 0, bottom: g.xTitlePad } }
        },
        y: {
          type: 'linear', min: yRange[0], max: yRange[1],
          afterBuildTicks: s => { s.ticks = yTicks.map(v => ({ value: v })); },
          afterFit: s => { s.width = g.left; },
          grid: { display: false, drawTicks: false }, border: { display: false },
          ticks: { padding: g.yPad, autoSkip: false, callback: v => fmt(v) },
          title: { display: true, text: yTitle, padding: { top: g.yTitlePad, bottom: 0 } }
        }
      }
    },
    plugins: [frame, boxLegend]
  });
}

// --- PANELS ---
drawPanel('road',
  { canvasTop: 0, canvasH: 380, left: 92, right: 999, top: 14, bottom: 321, xPad: 8, yPad: 6, xTitlePad: 5, yTitlePad: 7 },
  [-0.02, 0.02], metreTicks, 'road input(m)',
  [{ label: 'road', t: roadTime, v: roadInput, color: '#000', width: 3.5, dash: [], order: 0 }],
  null);

drawPanel('accel',
  { canvasTop: 380, canvasH: 380, left: 97.5, right: 1006, top: 392, bottom: 699, xPad: 10, yPad: 8, xTitlePad: 6, yTitlePad: 31 },
  [-1.2, 1.2], accelTicks, 'Sprung mass acceleration(m/s²)',
  [passive(accPassiveTime, accPassive), active(accActiveTime, accActive)],
  { box: [843, 403, 995, 458], line: [858, 922], textX: 930, rows: [420, 443] });

drawPanel('susp',
  { canvasTop: 760, canvasH: 380, left: 97.5, right: 1005, top: 773, bottom: 1082, xPad: 8, yPad: 8, xTitlePad: 6, yTitlePad: 11 },
  [-0.02, 0.02], metreTicks, 'Suspension deflection(m)',
  [passive(suspPassiveTime, suspPassive), active(suspActiveTime, suspActive)],
  { box: [814, 792, 972, 858], line: [830, 897], textX: 905, rows: [811, 838] });

drawPanel('tire',
  { canvasTop: 1140, canvasH: 392, left: 97.5, right: 1007, top: 1178, bottom: 1479, xPad: 0, yPad: 6, xTitlePad: 0, yTitlePad: 44 },
  [-2, 2], tireTicks, 'Tire deflection(m)',
  [passive(tirePassiveTime, tirePassive), active(tireActiveTime, tireActive)],
  { box: [844, 1169, 1018, 1242], line: [860, 935], textX: 944, rows: [1190, 1222] });
</script>
</body>
</html>
